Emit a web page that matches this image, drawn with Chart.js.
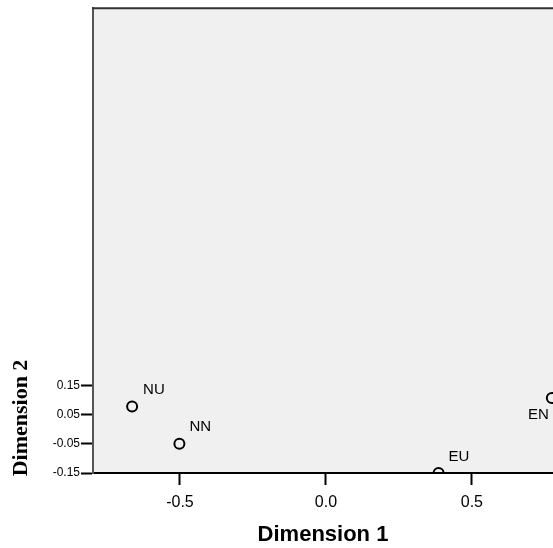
<!DOCTYPE html>
<html>
<head>
<meta charset="utf-8">
<script src="https://cdn.jsdelivr.net/npm/chart.js@4/dist/chart.umd.min.js"></script>
<style>
  html, body { margin: 0; padding: 0; background: #fff; }
  #wrap { width: 553px; height: 548px; }
</style>
</head>
<body>
<div id="wrap"><canvas id="chart"></canvas></div>
<script>
    // points
    const names = ['NU', 'NN', 'EU', 'EN'];
    const dim1 = [-0.664, -0.502, 0.386, 0.774];
    const dim2 = [0.078, -0.050, -0.150, 0.107];
    const xTicks = [-0.5, 0.0, 0.5];
    const yTicks = [0.15, 0.05, -0.05, -0.15];

    // label offsets from each point (px)
    const labelPos = {
      NU: { dx: 11, dy: -17, align: 'left' },
      NN: { dx: 10, dy: -17, align: 'left' },
      EU: { dx: 10, dy: -16, align: 'left' },
      EN: { dx: -3, dy: 17, align: 'right' }
    };

    const bgPlugin = {
      id: 'bg',
      beforeDraw(chart) {
        const { ctx, chartArea: a } = chart;
        ctx.save();
        ctx.fillStyle = '#f0f0f0';
        ctx.fillRect(a.left, a.top, a.right - a.left, a.bottom - a.top);
        ctx.restore();
      },
      afterDraw(chart) {
        const { ctx, chartArea: a } = chart;
        ctx.save();
        ctx.strokeStyle = '#333';
        ctx.lineWidth = 2;
        ctx.beginPath();
        ctx.moveTo(a.left - 1, a.top);
        ctx.lineTo(a.right, a.top);
        ctx.stroke();
        // y axis title, centred on the ticked part
        ctx.translate(21, 418);
        ctx.rotate(-Math.PI / 2);
        ctx.fillStyle = '#000';
        ctx.font = 'bold 22px "Liberation Serif", "Times New Roman", serif';
        ctx.textAlign = 'center';
        ctx.textBaseline = 'middle';
        ctx.fillText('Dimension 2', 0, 0);
        ctx.restore();
      }
    };

    const labelPlugin = {
      id: 'pointLabels',
      afterDatasetsDraw(chart) {
        const { ctx, scales } = chart;
        ctx.save();
        ctx.fillStyle = '#000';
        ctx.font = '15px "Liberation Sans", Arial, sans-serif';
        ctx.textBaseline = 'middle';
        names.forEach((n, i) => {
          const p = labelPos[n];
          const x = scales.x.getPixelForValue(dim1[i]);
          const y = scales.y.getPixelForValue(dim2[i]);
          ctx.textAlign = p.align;
          ctx.fillText(n, x + p.dx, y + p.dy);
        });
        ctx.restore();
      }
    };

    const ctx = document.getElementById('chart');
    new Chart(ctx, {
      type: 'scatter',
      data: {
        datasets: [{
          data: dim1.map((v, i) => ({ x: v, y: dim2[i] })),
          pointStyle: 'circle',
          pointRadius: 5,
          pointBorderWidth: 2,
          borderColor: '#000',
          backgroundColor: 'rgba(0,0,0,0)',
          clip: 0
        }]
      },
      options: {
        responsive: true,
        maintainAspectRatio: false,
        animation: false,
        layout: { autoPadding: false, padding: { top: 6, right: 0, left: 0, bottom: 0 } },
        plugins: { legend: { display: false }, tooltip: { enabled: false } },
        scales: {
          x: {
            type: 'linear',
            min: -0.798,
            max: 0.778,
            afterBuildTicks: s => { s.ticks = xTicks.map(v => ({ value: v })); },
            afterFit: s => { s.height = 75; },
            ticks: {
              color: '#000',
              font: { family: '"Liberation Sans", Arial, sans-serif', size: 16 },
              padding: 8,
              maxRotation: 0,
              callback: v => v.toFixed(1)
            },
            grid: { drawOnChartArea: false, tickLength: 12, tickColor: '#000', tickWidth: 2 },
            border: { color: '#000', width: 2 },
            title: {
              display: true,
              text: 'Dimension 1',
              color: '#000',
              font: { family: '"Liberation Sans", Arial, sans-serif', size: 22, weight: 'bold' },
              padding: { top: 0, bottom: 0 }
            }
          },
          y: {
            type: 'linear',
            min: -0.15,
            max: 1.443,
            afterBuildTicks: s => { s.ticks = yTicks.map(v => ({ value: v })); },
            afterFit: s => { s.width = 93; },
            ticks: {
              color: '#000',
              font: { family: '"Liberation Sans", Arial, sans-serif', size: 12 },
              padding: 1,
              callback: v => v.toFixed(2)
            },
            grid: { drawOnChartArea: false, tickLength: 12, tickColor: '#000', tickWidth: 2 },
            border: { color: '#555', width: 2 }
          }
        }
      },
      plugins: [bgPlugin, labelPlugin]
    });
</script>
</body>
</html>
